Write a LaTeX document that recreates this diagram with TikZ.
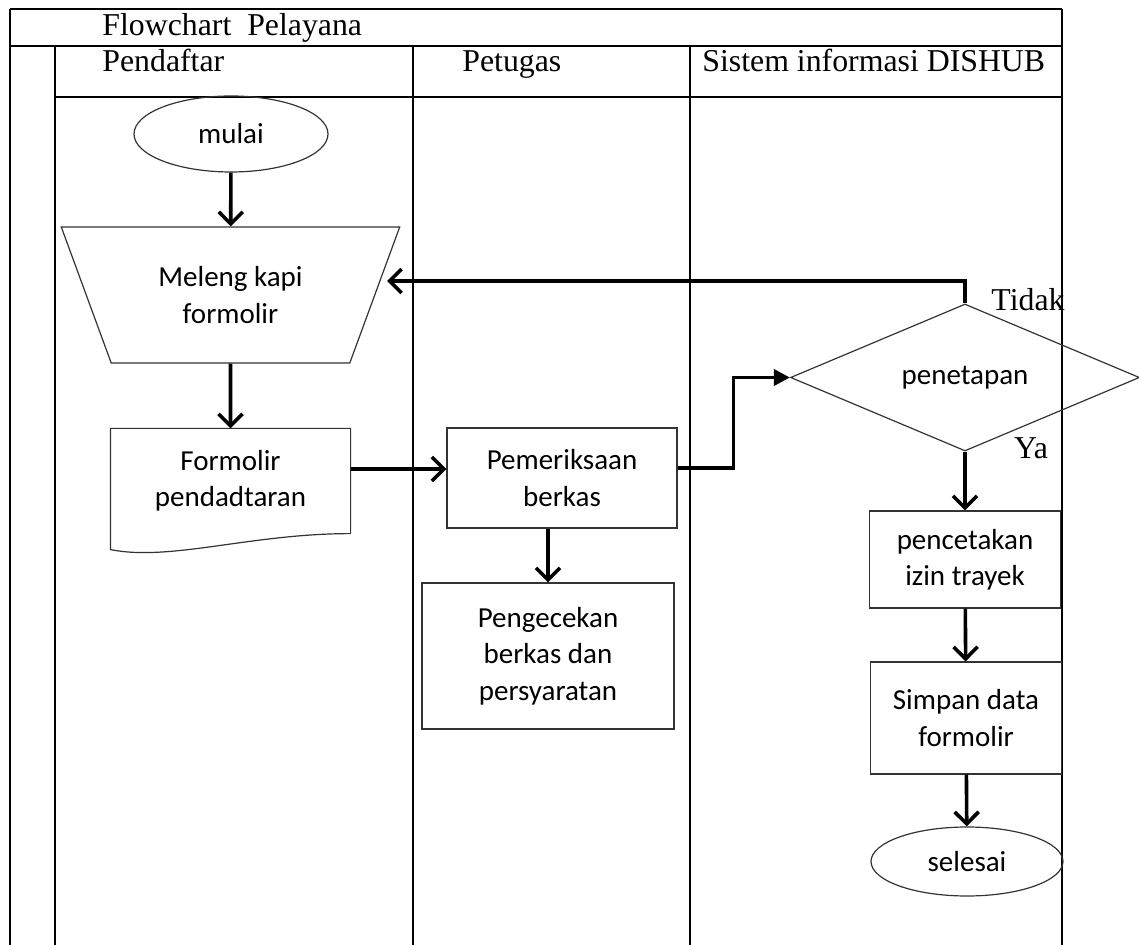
\documentclass[tikz,border=0pt]{standalone}
\usepackage{fontspec}
\setmainfont{Liberation Serif}
\newfontfamily\calibri{Carlito}
\usetikzlibrary{arrows.meta, shapes.geometric, positioning, calc}

\begin{document}
\begin{tikzpicture}[
    x=0.5pt, y=-0.5pt,
    lane/.style={line width=1pt},
    head/.style={anchor=base west, inner sep=0pt, font=\fontsize{15.9}{19}\selectfont},
    lbl/.style={inner sep=0pt, font=\fontsize{15.9}{19}\selectfont},
    box/.style={draw=black!80, line width=0.6pt, align=center, inner sep=2pt,
        font=\calibri\fontsize{14.5}{18.2}\selectfont, execute at begin node={\vspace*{5pt}}},
    term/.style={box, ellipse, inner sep=0pt},
    arr/.style={-{Straight Barb[length=6pt, width=12pt]}, line width=1.8pt},
    arrf/.style={-{Triangle[length=8pt, width=8pt]}, line width=1.8pt}
]
\useasboundingbox (0,0) rectangle (1139,945);

\draw[lane] (10,9) -- (1062,9);
\draw[lane] (10,46) -- (1062,46);
\draw[lane] (55,97) -- (1062,97);
\draw[lane] (10,9) -- (10,945);
\draw[lane] (55,46) -- (55,945);
\draw[lane] (413,46) -- (413,945);
\draw[lane] (690,46) -- (690,945);
\draw[lane] (1062,9) -- (1062,945);

\node[head] (judul) at (102,36) {Flowchart\ \ Pelayana};
\node[head] (pendaftar) at (102,72) {Pendaftar};
\node[head] (petugas) at (462,72) {Petugas};
\node[head] (sistem) at (702,72) {Sistem informasi DISHUB};

\node[term, minimum width=97pt, minimum height=38pt] (mulai) at (231,134) {mulai};
\node[box, trapezium, shape border rotate=180, trapezium stretches=true, trapezium angle=63.8,
      minimum width=169.5pt, minimum height=68pt] (lengkap) at (230.5,295) {Meleng kapi\\formolir};
\node[box, draw=none, minimum width=119.5pt, minimum height=52pt] (formulir) at (230.5,481) {Formolir\\pendadtaran};
\draw[draw=black!80, line width=0.6pt] (formulir.south east) -- (formulir.north east) -- (formulir.north west)
    -- ([yshift=-8pt]formulir.south west) .. controls +(30pt,-6pt) and +(-50pt,0pt) .. (formulir.south east);

\node[box, minimum width=115pt, minimum height=50pt] (periksa) at (562,478) {Pemeriksaan\\berkas};
\node[box, minimum width=126pt, minimum height=73pt] (cek) at (548,656) {Pengecekan\\berkas dan\\persyaratan};

\node[box, diamond, aspect=2.4, inner sep=0pt, minimum width=174.5pt, minimum height=73.5pt] (tetap) at (965,377.5) {penetapan};
\node[lbl] (tidak) at (1028,300) {Tidak};
\node[lbl] (ya) at (1031,448) {Ya};
\node[box, minimum width=95.5pt, minimum height=48.5pt] (cetak) at (965,559.5) {pencetakan\\izin trayek};
\node[box, minimum width=95.5pt, minimum height=56pt] (simpan) at (966,718) {Simpan data\\formolir};
\node[term, minimum width=96pt, minimum height=34.5pt] (selesai) at (967,861.5) {selesai};
\coordinate (balik) at (387,281);

\draw[arr] (mulai) -- (lengkap);
\draw[arr] (lengkap) -- (formulir);
\draw[arr] ([yshift=6pt]formulir.east) -- ([yshift=4.5pt]periksa.west);
\draw[arrf] ([yshift=5pt]periksa.east) -- ++(28pt,0) |- (tetap.west);
\draw[arr] (periksa.south -| cek.north) -- (cek.north);
\draw[arr] (tetap.north) |- (balik);
\draw[arr] (tetap.south) -- (cetak.north);
\draw[arr] (cetak) -- (simpan);
\draw[arr] (simpan) -- (selesai);
\end{tikzpicture}
\end{document}
